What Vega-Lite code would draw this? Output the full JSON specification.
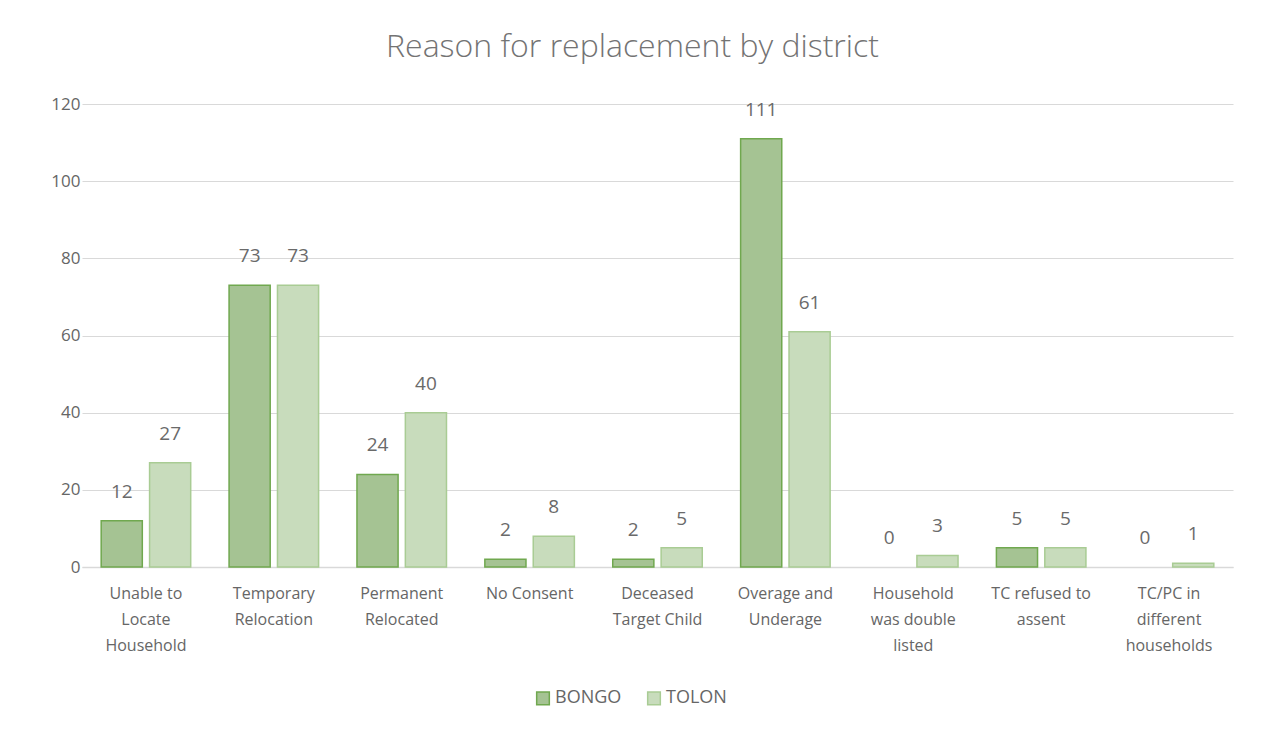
{
  "$schema": "https://vega.github.io/schema/vega-lite/v6.json",
  "width": 1151,
  "height": 463,
  "autosize": {"type": "none"},
  "padding": {"left": 82, "top": 104, "right": 31, "bottom": 168},
  "background": "white",
  "title": {
    "text": "Reason for replacement  by district",
    "fontSize": 32,
    "font": "Open Sans",
    "fontWeight": 300,
    "color": "#737373",
    "anchor": "middle",
    "dx": -25,
    "offset": 31
  },
  "data": {
    "values": [
      {"reason": "Unable to|Locate|Household", "order": 1, "district": "BONGO", "count": 12},
      {"reason": "Unable to|Locate|Household", "order": 1, "district": "TOLON", "count": 27},
      {"reason": "Temporary|Relocation", "order": 2, "district": "BONGO", "count": 73},
      {"reason": "Temporary|Relocation", "order": 2, "district": "TOLON", "count": 73},
      {"reason": "Permanent|Relocated", "order": 3, "district": "BONGO", "count": 24},
      {"reason": "Permanent|Relocated", "order": 3, "district": "TOLON", "count": 40},
      {"reason": "No Consent", "order": 4, "district": "BONGO", "count": 2},
      {"reason": "No Consent", "order": 4, "district": "TOLON", "count": 8},
      {"reason": "Deceased|Target Child", "order": 5, "district": "BONGO", "count": 2},
      {"reason": "Deceased|Target Child", "order": 5, "district": "TOLON", "count": 5},
      {"reason": "Overage and|Underage", "order": 6, "district": "BONGO", "count": 111},
      {"reason": "Overage and|Underage", "order": 6, "district": "TOLON", "count": 61},
      {"reason": "Household|was double|listed", "order": 7, "district": "BONGO", "count": 0},
      {"reason": "Household|was double|listed", "order": 7, "district": "TOLON", "count": 3},
      {"reason": "TC refused to|assent", "order": 8, "district": "BONGO", "count": 5},
      {"reason": "TC refused to|assent", "order": 8, "district": "TOLON", "count": 5},
      {"reason": "TC/PC in|different|households", "order": 9, "district": "BONGO", "count": 0},
      {"reason": "TC/PC in|different|households", "order": 9, "district": "TOLON", "count": 1}
    ]
  },
  "encoding": {
    "x": {
      "field": "reason",
      "type": "nominal",
      "sort": {"field": "order"},
      "scale": {"paddingInner": 0.3, "paddingOuter": 0.15},
      "axis": {
        "title": null,
        "labelAngle": 0,
        "labelExpr": "split(datum.label, '|')",
        "labelFont": "Open Sans",
        "labelFontSize": 16,
        "labelColor": "#666666",
        "labelLineHeight": 26,
        "labelPadding": 18,
        "labelBaseline": "top",
        "ticks": false,
        "domainColor": "#d9d9d9",
        "domainWidth": 1.5
      }
    },
    "xOffset": {
      "field": "district",
      "type": "nominal",
      "scale": {"paddingInner": 0.15, "paddingOuter": 0}
    },
    "y": {
      "field": "count",
      "type": "quantitative",
      "scale": {"domain": [0, 120], "nice": false},
      "axis": {
        "title": null,
        "values": [0, 20, 40, 60, 80, 100, 120],
        "labelFont": "Open Sans",
        "labelFontSize": 17,
        "labelColor": "#666666",
        "labelPadding": 2,
        "ticks": false,
        "domain": false,
        "gridColor": "#d9d9d9",
        "gridWidth": 1.2
      }
    }
  },
  "layer": [
    {
      "mark": {"type": "bar", "strokeWidth": 1.5},
      "encoding": {
        "color": {
          "field": "district",
          "type": "nominal",
          "scale": {"domain": ["BONGO", "TOLON"], "range": ["#a5c393", "#c8dcbc"]},
          "legend": {
            "title": null,
            "orient": "none",
            "direction": "horizontal",
            "legendX": 452,
            "legendY": 585,
            "symbolType": "square",
            "symbolSize": 160,
            "symbolStrokeWidth": 1.5,
            "labelFont": "Open Sans",
            "labelFontSize": 18,
            "labelColor": "#666666",
            "labelOffset": 3,
            "columnPadding": 22
          }
        },
        "stroke": {
          "field": "district",
          "type": "nominal",
          "scale": {"domain": ["BONGO", "TOLON"], "range": ["#70a84f", "#a9cc94"]},
          "legend": null
        },
        "strokeOpacity": {
          "condition": {"test": "datum.count == 0", "value": 0},
          "value": 1
        }
      }
    },
    {
      "mark": {
        "type": "text",
        "baseline": "bottom",
        "dy": -19,
        "font": "Open Sans",
        "fontSize": 19,
        "color": "#6a6a6a"
      },
      "encoding": {"text": {"field": "count", "type": "quantitative"}}
    }
  ],
  "config": {"view": {"stroke": null}}
}
